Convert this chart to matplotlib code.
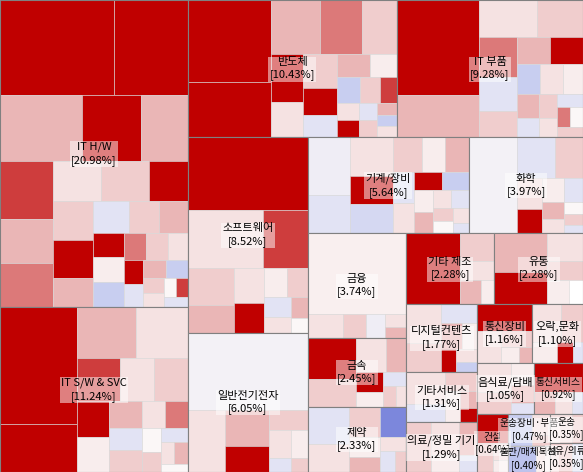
import matplotlib
matplotlib.use("Agg")
import matplotlib.pyplot as plt
from matplotlib.colors import LinearSegmentedColormap, TwoSlopeNorm
from matplotlib.patches import Rectangle

plt.rcParams['font.family'] = ['Noto Sans CJK KR', 'DejaVu Sans']

sectors = ["IT H/W", "IT S/W & SVC", "반도체", "IT 부품", "소프트웨어", "일반전기전자",
           "기계/장비", "화학", "금융", "금속", "제약", "기타 제조", "유통", "디지털컨텐츠",
           "기타서비스", "의료/정밀 기기", "통신장비", "오락,문화", "음식료/담배", "통신서비스", "건설",
           "운송장비·부품", "출판/매체복제", "운송", "섬유/의류"]
shares = [20.98, 11.24, 10.43, 9.28, 8.52, 6.05, 5.64, 3.97, 3.74, 2.45, 2.33, 2.28, 2.28,
          1.77, 1.31, 1.29, 1.16, 1.10, 1.05, 0.92, 0.64, 0.47, 0.40, 0.35, 0.35]

stock_w = {
    "IT H/W": [14, 9, 7, 5, 4, 4, 3, 3, 2.5, 2.5, 2, 2, 2, 1.5, 1.5, 1.2, 1.2, 1, 1, 1, 0.8, 0.8, 0.7, 0.6, 0.6, 0.5, 0.5, 0.4, 0.4, 0.3, 0.3, 0.3],
    "IT S/W & SVC": [12, 5, 4, 3.5, 2.5, 2, 2, 1.5, 1.5, 1.2, 1, 1, 0.8, 0.8, 0.6, 0.5, 0.5, 0.4, 0.4, 0.3],
    "반도체": [9, 6, 3.5, 3, 2.5, 2, 1.5, 1.5, 1.2, 1, 1, 0.8, 0.8, 0.7, 0.6, 0.5, 0.5, 0.4, 0.4, 0.3, 0.3, 0.3],
    "IT 부품": [9, 4, 2.5, 2, 1.8, 1.5, 1.2, 1, 1, 0.8, 0.8, 0.7, 0.6, 0.5, 0.5, 0.4, 0.4, 0.3, 0.3, 0.3],
    "소프트웨어": [10, 5, 3, 2, 1.5, 1.2, 1, 0.8, 0.7, 0.6, 0.5, 0.4, 0.3],
    "일반전기전자": [12, 3, 2, 1.5, 1, 0.8, 0.6, 0.4, 0.3],
    "기계/장비": [3, 2, 2, 1.5, 1.5, 1.2, 1, 1, 0.8, 0.8, 0.6, 0.6, 0.5, 0.5, 0.4, 0.4, 0.3, 0.3, 0.3, 0.2],
    "화학": [6, 2, 1.5, 1, 0.8, 0.7, 0.6, 0.5, 0.4, 0.3, 0.3, 0.2],
    "금융": [14, 1.5, 1, 0.8, 0.5, 0.4],
    "금속": [3, 2, 1.5, 1, 0.8, 0.6, 0.5, 0.4, 0.3],
    "제약": [2, 1.5, 1.2, 1, 0.8, 0.6, 0.5, 0.4, 0.3],
    "기타 제조": [6, 1.5, 1, 0.8, 0.5],
    "유통": [3, 2.5, 1.5, 1, 0.8, 0.5],
    "디지털컨텐츠": [2, 1.5, 1, 0.8, 0.6, 0.5, 0.4, 0.3],
    "기타서비스": [2, 1.2, 1, 0.8, 0.5, 0.4],
    "의료/정밀 기기": [2, 1.5, 1, 0.8, 0.5],
    "통신장비": [3, 1.5, 1, 0.6, 0.4],
    "오락,문화": [2, 1.5, 1, 0.6, 0.4],
    "음식료/담배": [2, 1.5, 1, 0.8, 0.5],
    "통신서비스": [3, 1, 0.8, 0.5],
    "건설": [2, 1, 0.6, 0.4],
    "운송장비·부품": [2, 1, 0.5],
    "출판/매체복제": [2, 1],
    "운송": [2, 1],
    "섬유/의류": [2, 1],
}
stock_c = {
    "IT H/W": [9, 9, 3, 9, 3, 5, 3, 4, 1, 2, 9, 2, 9, 3, -1, 2, 3, 9, 0.5, -2, 4, 2, 1, 9, -1, 3, -2, 2, 1, 0, 5, -1],
    "IT S/W & SVC": [9, 6, 3, 1, 5, 1, 2, 9, 0.5, 3, -1, 2, 1, 4, 0, 2, -1, 1, 3, 0],
    "반도체": [9, 9, 3, 4, 2, 6, 1, 2, 9, -1, 3, 0.5, -2, 2, 5, 1, 9, -1, 2, 3, -2, 1],
    "IT 부품": [9, 3, 1, 2, 4, -1, 2, 3, 9, -2, 1, 0.5, 3, -1, 2, 1, -1, 4, 0, 2],
    "소프트웨어": [9, 1, 5, 2, 3, 1, 9, 0.5, 2, -1, 1, 3, 0],
    "일반전기전자": [-0.3, 1, 3, 9, 2, 1, 0.5, -1, 2],
    "기계/장비": [-0.5, -1, 1, 9, -1.5, 2, 0.5, 3, -1, 1, 9, -2, 0.5, 3, 1, -1, 2, 0, 1, -1],
    "화학": [-0.3, -1, 2, 1, 9, 0.5, -1, 3, 1, 0, 2, -1],
    "금융": [0.4, 1, 2, -0.5, 1, 3],
    "금속": [9, 2, 1, 3, 9, 0.5, -1, 2, 1],
    "제약": [-1, 1, 2, -3, 0.5, 3, 1, -1, 2],
    "기타 제조": [9, 2, 1, 3, 0.5],
    "유통": [3, 9, 1, 2, 0.5],
    "디지털컨텐츠": [1, 2, -1, 3, 0.5, 9, 1, -2],
    "기타서비스": [1, -1, 2, 0.5, 3, 9],
    "의료/정밀 기기": [2, 1, 3, 0.5, -1],
    "통신장비": [9, 1, 2, 0.5, 3],
    "오락,문화": [1, 2, 0.5, 9, -1],
    "음식료/담배": [1, 2, 0.5, 3, -1],
    "통신서비스": [9, 3, 1, -1],
    "건설": [9, 2, 1, 0.5],
    "운송장비·부품": [-2, 1, 2],
    "출판/매체복제": [-3, 1],
    "운송": [1, 2],
    "섬유/의류": [2, -1],
}

W, H = 583, 472


def worst(row, w):
    s = sum(row)
    return max(max(w * w * r / (s * s), (s * s) / (w * w * r)) for r in row)


def squarify(values, x, y, dx, dy):
    total = sum(values)
    areas = [v * dx * dy / total for v in values]
    rects = []
    i = 0
    while i < len(areas):
        w = min(dx, dy)
        row = [areas[i]]
        j = i + 1
        while j < len(areas) and worst(row + [areas[j]], w) <= worst(row, w):
            row.append(areas[j]); j += 1
        s = sum(row)
        if dx >= dy:
            cw = s / dy; cy = y
            for a in row:
                h = a / cw; rects.append((x, cy, cw, h)); cy += h
            x += cw; dx -= cw
        else:
            rh = s / dx; cx = x
            for a in row:
                ww = a / rh; rects.append((cx, y, ww, rh)); cx += ww
            y += rh; dy -= rh
        i = j
    return rects


cmap = LinearSegmentedColormap.from_list("rb", ["#3040c8", "#c8cef0", "#fbf7f7", "#eab8b8", "#c00000"])
norm = TwoSlopeNorm(vmin=-4, vcenter=0, vmax=6)

fig = plt.figure(figsize=(W / 100, H / 100), dpi=100)
ax = fig.add_axes([0, 0, 1, 1])
ax.set_xlim(0, W); ax.set_ylim(H, 0); ax.axis("off")

srects = squarify(shares, 0, 0, W, H)
for name, share, (sx, sy, sw, sh) in zip(sectors, shares, srects):
    for (x, y, w, h), c in zip(squarify(stock_w[name], sx, sy, sw, sh), stock_c[name]):
        ax.add_patch(Rectangle((x, y), w, h, facecolor=cmap(norm(c)), edgecolor="#d8d8d8", lw=0.4))
    border = Rectangle((sx, sy), sw, sh, fill=False, edgecolor="#808080", lw=0.8)
    ax.add_patch(border)
    t = ax.text(sx + sw / 2, sy + sh / 2, f"{name}\n[{share:.2f}%]", ha="center", va="center",
                fontsize=8 if share >= 1 else 7, linespacing=1.3,
                bbox=dict(facecolor="white", alpha=0.5, edgecolor="none", pad=1))
    t.set_clip_path(border)

fig.savefig("out.png", dpi=100)
